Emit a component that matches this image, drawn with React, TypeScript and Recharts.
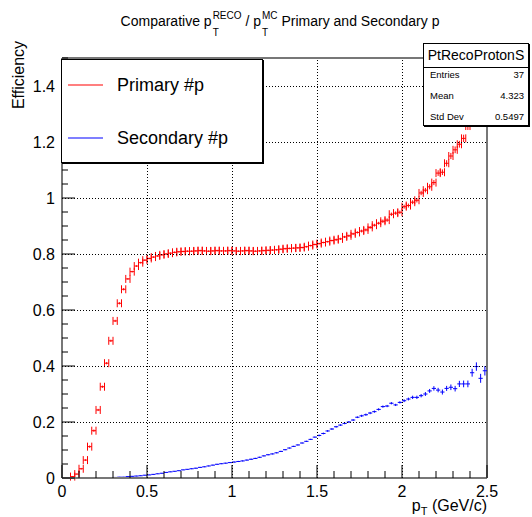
import { ScatterChart, Scatter, XAxis, YAxis, ErrorBar, ReferenceLine } from 'recharts'

const FONT = '"Liberation Sans", Arial, Helvetica, sans-serif'

// histogram binning: 100 bins over 0..2.5 GeV/c
const BIN_WIDTH = 0.025

// primary protons, bins 0..99 (null = empty bin)
const PRIMARY_EFF = [
  null, null, 0.005, 0.014, 0.033, 0.064, 0.112, 0.169, 0.243, 0.326,
  0.41, 0.49, 0.561, 0.624, 0.674, 0.711, 0.737, 0.757, 0.769, 0.778,
  0.784, 0.789, 0.793, 0.797, 0.8, 0.803, 0.806, 0.808, 0.809, 0.81,
  0.81, 0.811, 0.812, 0.811, 0.81, 0.811, 0.812, 0.811, 0.811, 0.812,
  0.811, 0.81, 0.811, 0.812, 0.811, 0.81, 0.811, 0.812, 0.813, 0.814,
  0.815, 0.817, 0.819, 0.82, 0.821, 0.822, 0.823, 0.826, 0.83, 0.834,
  0.837, 0.841, 0.844, 0.848, 0.851, 0.854, 0.861, 0.865, 0.872, 0.877,
  0.882, 0.886, 0.895, 0.903, 0.91, 0.917, 0.921, 0.942, 0.946, 0.949,
  0.969, 0.973, 0.985, 0.992, 1.018, 1.028, 1.04, 1.055, 1.089, 1.092,
  1.124, 1.15, 1.172, 1.192, 1.213, 1.257, 1.3, 1.34, 1.38, 1.43,
]
const PRIMARY_ERR = [
  0, 0, 0.002, 0.002, 0.003, 0.003, 0.004, 0.004, 0.004, 0.004,
  0.004, 0.004, 0.004, 0.004, 0.004, 0.003, 0.003, 0.003, 0.003, 0.003,
  0.003, 0.003, 0.003, 0.003, 0.003, 0.003, 0.003, 0.003, 0.003, 0.003,
  0.003, 0.003, 0.003, 0.003, 0.003, 0.003, 0.003, 0.003, 0.003, 0.003,
  0.003, 0.003, 0.003, 0.003, 0.003, 0.003, 0.003, 0.003, 0.003, 0.003,
  0.003, 0.003, 0.003, 0.003, 0.003, 0.003, 0.003, 0.003, 0.003, 0.003,
  0.003, 0.003, 0.003, 0.003, 0.004, 0.004, 0.004, 0.004, 0.004, 0.004,
  0.005, 0.005, 0.005, 0.005, 0.005, 0.006, 0.006, 0.006, 0.006, 0.006,
  0.007, 0.007, 0.007, 0.008, 0.008, 0.008, 0.009, 0.009, 0.01, 0.01,
  0.011, 0.011, 0.012, 0.012, 0.013, 0.014, 0.015, 0.016, 0.017, 0.018,
]

// secondary protons
const SECONDARY_EFF = [
  0, 0, 0, 0, 0, 0, 0, 0, 0, 0,
  0.001, 0.001, 0.002, 0.003, 0.003, 0.005, 0.006, 0.007, 0.008, 0.01,
  0.011, 0.013, 0.015, 0.017, 0.02, 0.022, 0.024, 0.026, 0.029, 0.031,
  0.033, 0.035, 0.038, 0.04, 0.043, 0.046, 0.049, 0.051, 0.053, 0.055,
  0.057, 0.059, 0.061, 0.064, 0.067, 0.07, 0.074, 0.079, 0.083, 0.086,
  0.09, 0.095, 0.101, 0.107, 0.113, 0.118, 0.125, 0.131, 0.138, 0.146,
  0.152, 0.159, 0.168, 0.175, 0.183, 0.189, 0.195, 0.2, 0.207, 0.217,
  0.222, 0.226, 0.232, 0.237, 0.245, 0.255, 0.257, 0.267, 0.261, 0.27,
  0.276, 0.282, 0.288, 0.288, 0.294, 0.3, 0.311, 0.32, 0.314, 0.307,
  0.32, 0.324, 0.319, 0.336, 0.336, 0.336, 0.376, 0.398, 0.356, 0.383,
]
const SECONDARY_ERR = [
  0, 0, 0, 0, 0, 0, 0, 0, 0, 0,
  0.001, 0.001, 0.001, 0.001, 0.001, 0.001, 0.001, 0.001, 0.001, 0.001,
  0.001, 0.001, 0.001, 0.001, 0.001, 0.001, 0.001, 0.001, 0.001, 0.001,
  0.0015, 0.0015, 0.0015, 0.0015, 0.0015, 0.0015, 0.0015, 0.0015, 0.0015, 0.0015,
  0.002, 0.002, 0.002, 0.002, 0.002, 0.002, 0.002, 0.002, 0.002, 0.002,
  0.002, 0.002, 0.002, 0.002, 0.002, 0.002, 0.002, 0.002, 0.002, 0.002,
  0.003, 0.003, 0.003, 0.003, 0.003, 0.003, 0.003, 0.003, 0.003, 0.003,
  0.004, 0.004, 0.004, 0.004, 0.004, 0.004, 0.004, 0.004, 0.004, 0.004,
  0.005, 0.005, 0.006, 0.006, 0.006, 0.007, 0.007, 0.008, 0.008, 0.009,
  0.009, 0.01, 0.01, 0.011, 0.012, 0.012, 0.014, 0.015, 0.016, 0.017,
]

const X_TICKS = [
  0, 0.1, 0.2, 0.3, 0.4, 0.5, 0.6, 0.7, 0.8, 0.9, 1, 1.1, 1.2,
  1.3, 1.4, 1.5, 1.6, 1.7, 1.8, 1.9, 2, 2.1, 2.2, 2.3, 2.4, 2.5,
]
const X_MAJOR = [0, 0.5, 1, 1.5, 2, 2.5]
const Y_TICKS = [
  0, 0.05, 0.1, 0.15, 0.2, 0.25, 0.3, 0.35, 0.4, 0.45, 0.5, 0.55, 0.6, 0.65, 0.7, 0.75,
  0.8, 0.85, 0.9, 0.95, 1, 1.05, 1.1, 1.15, 1.2, 1.25, 1.3, 1.35, 1.4, 1.45, 1.5,
]
const Y_MAJOR = [0, 0.2, 0.4, 0.6, 0.8, 1, 1.2, 1.4]
const X_GRID = [0.5, 1, 1.5, 2]
const Y_GRID = [0.2, 0.4, 0.6, 0.8, 1, 1.2, 1.4]

const STATS = [
  ['Entries', '37'],
  ['Mean', '4.323'],
  ['Std Dev', '0.5497'],
]

const LEGEND = [
  { name: 'Primary #p', color: '#ff0000', cy: 25 },
  { name: 'Secondary #p', color: '#0000ff', cy: 78 },
]

const PLOT = { left: 62, top: 58, right: 487, bottom: 478 }
const W = 532
const H = 517
const Y_AXIS_W = 40
const X_AXIS_H = 30

const toPoints = (vals: (number | null)[], errs: number[]) =>
  vals
    .map((v, k) => (v == null ? null : { x: k * BIN_WIDTH + BIN_WIDTH / 2, y: v, ex: BIN_WIDTH / 2, ey: errs[k] }))
    .filter(Boolean)

const primary = toPoints(PRIMARY_EFF, PRIMARY_ERR)
const secondary = toPoints(SECONDARY_EFF, SECONDARY_ERR)

// inward ROOT-style ticks, labels outside, dotted grid at the inner major ticks
const XTick = (props: any) => {
  const { x, payload } = props
  const major = X_MAJOR.includes(payload.value)
  const gx = Math.round(x) + 0.5
  return (
    <g>
      {X_GRID.includes(payload.value) && (
        <line x1={gx} x2={gx} y1={PLOT.bottom} y2={PLOT.top} stroke="#000" strokeDasharray="1 2" />
      )}
      <line x1={x} x2={x} y1={PLOT.bottom} y2={PLOT.bottom - (major ? 13 : 7)} stroke="#000" />
      {major && (
        <text x={x} y={PLOT.bottom + 19} textAnchor="middle" fontSize={16} fontFamily={FONT} fill="#000">
          {payload.value}
        </text>
      )}
    </g>
  )
}

const YTick = (props: any) => {
  const { y, payload } = props
  const major = Y_MAJOR.includes(payload.value)
  const gy = Math.round(y) + 0.5
  return (
    <g>
      {Y_GRID.includes(payload.value) && (
        <line x1={PLOT.left} x2={PLOT.right} y1={gy} y2={gy} stroke="#000" strokeDasharray="1 2" />
      )}
      <line x1={PLOT.left} x2={PLOT.left + (major ? 13 : 6)} y1={y} y2={y} stroke="#000" />
      {major && (
        <text x={PLOT.left - 7} y={y + 6} textAnchor="end" fontSize={16} fontFamily={FONT} fill="#000">
          {payload.value}
        </text>
      )}
    </g>
  )
}

const noMarker = () => <g />

function Stack({ sup, sub }: { sup: string; sub: string }) {
  return (
    <span
      style={{
        display: 'inline-flex',
        flexDirection: 'column',
        alignItems: 'flex-start',
        verticalAlign: '7px',
        fontSize: 10,
        lineHeight: '17px',
        marginLeft: 1,
      }}
    >
      <span>{sup}</span>
      <span>{sub}</span>
    </span>
  )
}

export default function App() {
  return (
    <div style={{ position: 'absolute', left: 0, top: 0, width: W, height: H, background: '#fff', overflow: 'hidden', fontFamily: FONT }}>
      <ScatterChart
        width={W}
        height={H}
        margin={{ top: PLOT.top, right: W - PLOT.right, bottom: H - PLOT.bottom - X_AXIS_H, left: PLOT.left - Y_AXIS_W }}
      >
        <XAxis
          type="number"
          dataKey="x"
          domain={[0, 2.5]}
          ticks={X_TICKS}
          interval={0}
          height={X_AXIS_H}
          tickLine={false}
          axisLine={{ stroke: '#777', strokeWidth: 2 }}
          tick={(p: any) => <XTick {...p} />}
          allowDataOverflow
        />
        <YAxis
          type="number"
          dataKey="y"
          domain={[0, 1.5]}
          ticks={Y_TICKS}
          interval={0}
          width={Y_AXIS_W}
          tickLine={false}
          axisLine={{ stroke: '#777', strokeWidth: 2 }}
          tick={(p: any) => <YTick {...p} />}
          allowDataOverflow
        />
        <ReferenceLine y={1.5} stroke="#777" strokeWidth={2} />
        <ReferenceLine x={2.5} stroke="#777" strokeWidth={2} />
        <Scatter data={secondary} shape={noMarker} isAnimationActive={false}>
          <ErrorBar dataKey="ex" direction="x" width={0} stroke="#0000ff" strokeWidth={1} />
          <ErrorBar dataKey="ey" direction="y" width={0} stroke="#0000ff" strokeWidth={1} />
        </Scatter>
        <Scatter data={primary} shape={noMarker} isAnimationActive={false}>
          <ErrorBar dataKey="ex" direction="x" width={4} stroke="#ff0000" strokeWidth={1} />
          <ErrorBar dataKey="ey" direction="y" width={0} stroke="#ff0000" strokeWidth={1} />
        </Scatter>
      </ScatterChart>

      {/* title */}
      <div style={{ position: 'absolute', top: 7, left: 280, transform: 'translateX(-50%)', whiteSpace: 'nowrap', fontSize: 14, lineHeight: '20px' }}>
        Comparative p<Stack sup="RECO" sub="T" /> / p<Stack sup="MC" sub="T" /> Primary and Secondary p
      </div>

      {/* axis titles */}
      <div
        style={{
          position: 'absolute',
          left: 19,
          top: 75,
          transform: 'translate(-50%, -50%) rotate(-90deg)',
          fontSize: 16,
          whiteSpace: 'nowrap',
        }}
      >
        Efficiency
      </div>
      <div style={{ position: 'absolute', right: W - PLOT.right, top: 497, fontSize: 16, whiteSpace: 'nowrap', lineHeight: '18px' }}>
        p<sub style={{ fontSize: 11, verticalAlign: '-4px' }}>T</sub> (GeV/c)
      </div>

      {/* legend */}
      <div
        style={{
          position: 'absolute',
          left: 61,
          top: 59,
          width: 200,
          height: 102,
          background: '#fff',
          border: '1px solid #000',
          boxShadow: '1px 1px 0 #000',
        }}
      >
        <svg width={200} height={102} style={{ position: 'absolute', left: 0, top: 0 }}>
          {LEGEND.map((e) => (
            <line key={e.name} x1={6} x2={41} y1={e.cy} y2={e.cy} stroke={e.color} strokeWidth={1.2} />
          ))}
        </svg>
        {LEGEND.map((e) => (
          <div key={e.name} style={{ position: 'absolute', left: 55, top: e.cy - 11, fontSize: 18, lineHeight: '22px', whiteSpace: 'nowrap' }}>
            {e.name}
          </div>
        ))}
      </div>

      {/* stats box */}
      <div
        style={{
          position: 'absolute',
          left: 423,
          top: 43,
          width: 104,
          height: 81,
          background: '#fff',
          border: '1px solid #000',
          boxShadow: '1px 1px 0 #000',
        }}
      >
        <div style={{ height: 23, borderBottom: '1px solid #000', fontSize: 14, lineHeight: '23px', textAlign: 'center' }}>PtRecoProtonS</div>
        {STATS.map(([k, v], i) => (
          <div
            key={k}
            style={{
              position: 'absolute',
              left: 6,
              right: 4,
              top: 24 + i * 21,
              display: 'flex',
              justifyContent: 'space-between',
              fontSize: 9.5,
              lineHeight: '14px',
            }}
          >
            <span>{k}</span>
            <span>{v}</span>
          </div>
        ))}
      </div>
    </div>
  )
}
